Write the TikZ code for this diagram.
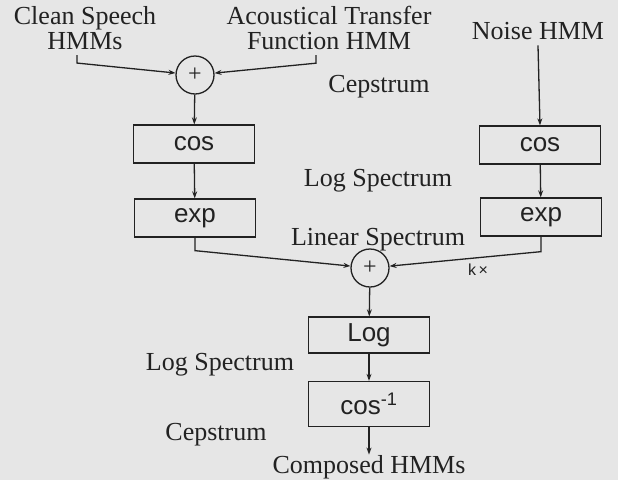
\documentclass[tikz,border=0pt]{standalone}
\usepackage{fontspec}
\setmainfont{Liberation Serif}
\setsansfont{Liberation Sans}
\usetikzlibrary{arrows.meta}
\definecolor{paper}{HTML}{E6E6E6}
\definecolor{ink}{HTML}{222222}

\begin{document}
\begin{tikzpicture}[x=1pt, y=-1pt, color=ink, line width=1.3pt,
		lbl/.style={font=\fontsize{26}{24.5}\selectfont, align=center, inner xsep=2pt, inner ysep=5pt},
		opbox/.style={draw, font=\sffamily\fontsize{26}{28}\selectfont, minimum width=121pt, minimum height=38pt, inner sep=0pt},
		sumnode/.style={draw, circle, minimum size=38pt, inner sep=0pt, font=\fontsize{24}{24}\selectfont},
		arr/.style={-{Stealth[length=7pt, width=5pt]}}]
			\fill[paper] (0,0) rectangle (618,480);
			\useasboundingbox (0,0) rectangle (618,480);
			\node[lbl] (clean) at (85,28) {Clean Speech\\HMMs};
			\node[lbl] (acoust) at (329,28) {Acoustical Transfer\\Function HMM};
			\node[lbl] (noise) at (538,31) {Noise HMM};
			\node[sumnode] (sumA) at (195,75) {+};
			\node[opbox] (lcos) at (194,144) {cos};
			\node[opbox] (lexp) at (195,218) {exp};
			\node[opbox] (rcos) at (540,145) {cos};
			\node[opbox] (rexp) at (541,217) {exp};
			\node[sumnode] (sumB) at (370,268) {+};
			\node[opbox, minimum height=36pt] (log) at (369,335) {Log};
			\node[opbox, minimum height=45pt] (icos) at (369,404) {cos\textsuperscript{-1}};
			\node[lbl] (cepA) at (379,87) {Cepstrum};
			\node[lbl] (logA) at (378,181) {Log Spectrum};
			\node[lbl] (lin) at (378,240) {Linear Spectrum};
			\node[lbl] (logB) at (220,365) {Log Spectrum};
			\node[lbl] (cepB) at (216,435) {Cepstrum};
			\node[lbl, inner ysep=0pt] (out) at (369,467) {Composed HMMs};
			\node[font=\sffamily\fontsize{16}{16}\selectfont] (kx) at (478,270) {k\,×};
			\draw[arr] ([xshift=-8pt]clean.south) -- ++(0,8) -- (sumA);
			\draw[arr] ([xshift=-13pt]acoust.south) -- ++(0,8) -- (sumA);
			\draw[arr] (noise.south) -- (rcos.north);
			\draw[arr] (sumA) -- (lcos);
			\draw[arr] (lcos) -- (lexp);
			\draw[arr] (rcos) -- (rexp);
			\draw[arr] (lexp.south) -- ++(0,13) -- (sumB);
			\draw[arr] (rexp.south) -- ++(0,15) -- (sumB);
			\draw[arr] (sumB) -- (log);
			\draw[arr] (log) -- (icos);
			\draw[arr] (icos) -- (out);
		\end{tikzpicture}
\end{document}
